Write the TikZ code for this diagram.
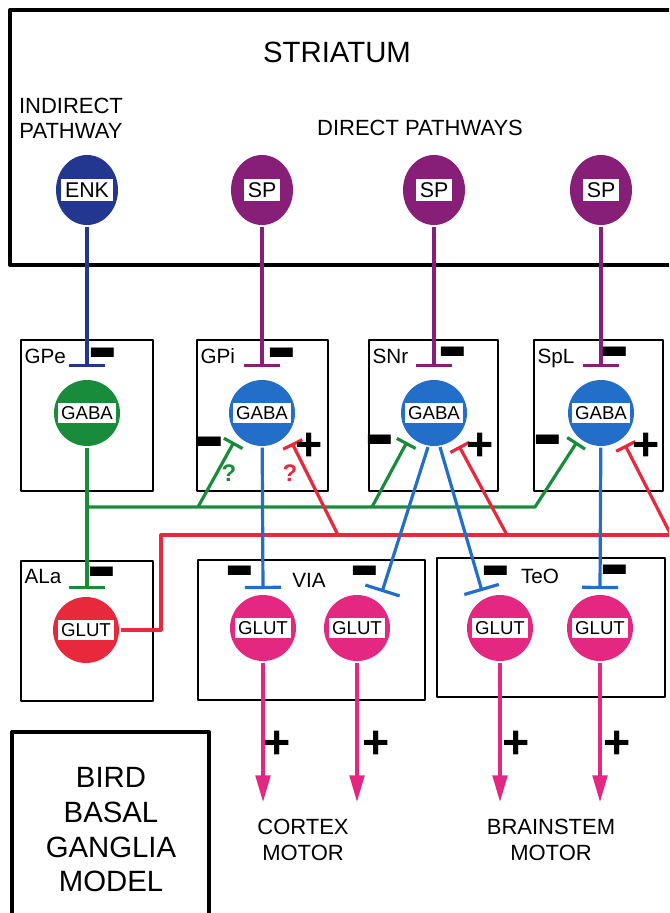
\documentclass[tikz,border=0pt]{standalone}
\usepackage{fontspec}
\setmainfont{Liberation Sans}
\usetikzlibrary{shapes.geometric,arrows.meta}
\definecolor{enkblue}{RGB}{35,55,145}
\definecolor{sppurple}{RGB}{135,30,120}
\definecolor{gabablue}{RGB}{35,110,200}
\definecolor{gpegreen}{RGB}{25,140,60}
\definecolor{glutred}{RGB}{232,40,60}
\definecolor{glutpink}{RGB}{228,40,130}
\newcommand{\mns}{\scalebox{1.9}[3.6]{−}}
\begin{document}
\begin{tikzpicture}[x=0.75pt,y=-0.75pt,line width=2.4pt,
  bigframe/.style={draw=black,line width=2.5pt},
  frame/.style={draw=black,line width=1.6pt},
  striacell/.style={ellipse,minimum width=46.5pt,minimum height=52.5pt,inner sep=0pt},
  soma/.style={circle,minimum size=49.5pt,inner sep=0pt},
  tag/.style={fill=white,inner xsep=2.5pt,inner ysep=0pt,minimum height=15.5pt,font=\fontsize{14}{14}\selectfont},
  bigtag/.style={fill=white,inner xsep=3pt,inner ysep=0pt,minimum height=16.5pt,font=\fontsize{16}{16}\selectfont},
  inh/.style={-{Bar[width=27pt]}},
  inhs/.style={-{Bar[width=16pt]}},
  exc/.style={-{Triangle[width=11pt,length=20pt]}},
  minus/.style={font=\bfseries\fontsize{18}{18}\selectfont,inner sep=0pt,yshift=-9.7pt},
  plus/.style={font=\bfseries\fontsize{35}{35}\selectfont,inner sep=0pt},
  qmark/.style={font=\bfseries\fontsize{18}{18}\selectfont,inner sep=0pt},
  region/.style={font=\fontsize{15.5}{15.5}\selectfont,anchor=base west,inner sep=0pt},
  title/.style={font=\fontsize{16.5}{19}\selectfont,align=center,inner sep=0pt},
  line join=round]
\useasboundingbox (0,0) rectangle (669,913);
\clip (0,0) rectangle (669,913);

% ---------- frames ----------
\draw[bigframe] (690,10) -- (10,10) -- (10,265) -- (690,265);
\draw[bigframe] (12,925) -- (12,732) -- (209,732) -- (209,925);
\draw[frame] (21,340) rectangle (153,491);
\draw[frame] (197,340) rectangle (328,491);
\draw[frame] (369,340) rectangle (498,491);
\draw[frame] (534,340) rectangle (663,491);
\draw[frame] (21,561) rectangle (153,701);
\draw[frame] (198,560) rectangle (425,700);
\draw[frame] (437,558) rectangle (665,697);

% ---------- titles ----------
\node[font=\fontsize{22}{22}\selectfont,inner sep=0pt] (tstr) at (337,52) {STRIATUM};
\node[title] (tind) at (71,118) {INDIRECT\\PATHWAY};
\node[title] (tdir) at (420,128) {DIRECT PATHWAYS};
\node[title] (tctx) at (303,840) {CORTEX\\MOTOR};
\node[title] (tbst) at (551,840) {BRAINSTEM\\MOTOR};
\node[font=\fontsize{22}{26}\selectfont,align=center,inner sep=0pt] (tbird) at (111,830) {BIRD\\BASAL\\GANGLIA\\MODEL};

% ---------- region labels ----------
\node[region] (lgpe) at (23,363) {GPe};
\node[region] (lgpi) at (199,363) {GPi};
\node[region] (lsnr) at (371,363) {SNr};
\node[region] (lspl) at (536,363) {SpL};
\node[region] (lala) at (23,583) {ALa};
\node[region,anchor=base] (lvia) at (309,587) {VIA};
\node[region,anchor=base] (lteo) at (540,583) {TeO};

% ---------- cells ----------
\node[striacell,fill=enkblue] (enk) at (87,190) {};
\node[striacell,fill=sppurple] (sp1) at (262,190) {};
\node[striacell,fill=sppurple] (sp2) at (434,190) {};
\node[striacell,fill=sppurple] (sp3) at (601,190) {};

\node[soma,fill=gpegreen] (gpe) at (87,413) {};
\node[soma,fill=gabablue] (gpi) at (262,413) {};
\node[soma,fill=gabablue] (snr) at (434,413) {};
\node[soma,fill=gabablue] (spl) at (601,413) {};

\node[soma,fill=glutred] (ala) at (86,630) {};
\node[soma,fill=glutpink] (via1) at (263,628) {};
\node[soma,fill=glutpink] (via2) at (357,628) {};
\node[soma,fill=glutpink] (teo1) at (500,628) {};
\node[soma,fill=glutpink] (teo2) at (600,628) {};

% ---------- end points ----------
\coordinate (gpe-in) at (87,367);
\coordinate (gpi-in) at (262,367);
\coordinate (snr-in) at (434,367);
\coordinate (spl-in) at (601,367);
\coordinate (ala-in) at (87,589);
\coordinate (via1-in) at (263,589);
\coordinate (via2-in) at (382,592);
\coordinate (teo1-in) at (482,591);
\coordinate (teo2-in) at (600,589);
\coordinate (gpi-g) at (234,442);
\coordinate (snr-g) at (407,442);
\coordinate (spl-g) at (577,442);
\coordinate (gpi-r) at (292,443);
\coordinate (snr-r) at (459,446);
\coordinate (spl-r) at (625,445);
\coordinate (g0) at (87,507);
\coordinate (g1) at (198,507);
\coordinate (g2) at (372,507);
\coordinate (g3) at (535,507);
\coordinate (r0) at (161,535);
\coordinate (r1) at (338,535);
\coordinate (r2) at (507,535);
\coordinate (r3) at (671,535);
\coordinate (via1-out) at (263,802);
\coordinate (via2-out) at (357,802);
\coordinate (teo1-out) at (500,802);
\coordinate (teo2-out) at (600,802);

% ---------- striatal projections ----------
\draw[enkblue,inh] (enk) -- (gpe-in);
\draw[sppurple,inh] (sp1) -- (gpi-in);
\draw[sppurple,inh] (sp2) -- (snr-in);
\draw[sppurple,inh] (sp3) -- (spl-in);

% ---------- GPe (green) ----------
\draw[gpegreen,inh] (gpe) -- (ala-in);
\draw[gpegreen,inhs] (g0) -- (g3) -- (spl-g);
\draw[gpegreen,inhs] (g1) -- (gpi-g);
\draw[gpegreen,inhs] (g2) -- (snr-g);

% ---------- ALa (red) ----------
\draw[glutred] (ala) -- (161,630) -- (r0) -- (690,535);
\draw[glutred,inhs] (r1) -- (gpi-r);
\draw[glutred,inhs] (r2) -- (snr-r);
\draw[glutred,inhs] (r3) -- (spl-r);

% ---------- pallidal outputs (blue) ----------
\draw[gabablue,inh] (gpi) -- (via1-in);
\draw[gabablue,inh] (snr.-100) -- (via2-in);
\draw[gabablue,inh] (snr.-80) -- (teo1-in);
\draw[gabablue,inh] (spl) -- (teo2-in);

% ---------- motor outputs ----------
\draw[glutpink,exc] (via1) -- (via1-out);
\draw[glutpink,exc] (via2) -- (via2-out);
\draw[glutpink,exc] (teo1) -- (teo1-out);
\draw[glutpink,exc] (teo2) -- (teo2-out);

% ---------- cell tags ----------
\node[bigtag] (enk-t) at (enk) {ENK};
\node[bigtag] (sp1-t) at (sp1) {SP};
\node[bigtag] (sp2-t) at (sp2) {SP};
\node[bigtag] (sp3-t) at (sp3) {SP};
\node[tag] (gpe-t) at (gpe) {GABA};
\node[tag] (gpi-t) at (gpi) {GABA};
\node[tag] (snr-t) at (snr) {GABA};
\node[tag] (spl-t) at (spl) {GABA};
\node[tag] (ala-t) at (ala) {GLUT};
\node[tag] (via1-t) at (via1) {GLUT};
\node[tag] (via2-t) at (via2) {GLUT};
\node[tag] (teo1-t) at (teo1) {GLUT};
\node[tag] (teo2-t) at (teo2) {GLUT};

% ---------- signs ----------
\node[minus] (m1) at (103,352) {\mns};
\node[minus] (m2) at (282,352) {\mns};
\node[minus] (m3) at (453,351) {\mns};
\node[minus] (m4) at (615,351) {\mns};
\node[minus] (m5) at (210,441) {\mns};
\node[minus] (m6) at (380,439) {\mns};
\node[minus] (m7) at (548,439) {\mns};
\node[minus] (m8) at (102,571) {\mns};
\node[minus] (m9) at (240,570) {\mns};
\node[minus] (m10) at (365,570) {\mns};
\node[minus] (m11) at (496,570) {\mns};
\node[minus] (m12) at (615,569) {\mns};

\node[plus] (p1) at (309,447) {+};
\node[plus] (p2) at (480,447) {+};
\node[plus] (p3) at (646,447) {+};
\node[plus] (p4) at (277,745) {+};
\node[plus] (p5) at (376,745) {+};
\node[plus] (p6) at (516,745) {+};
\node[plus] (p7) at (617,745) {+};

\node[qmark,text=gpegreen] (q1) at (229,473) {?};
\node[qmark,text=glutred] (q2) at (290,473) {?};
\end{tikzpicture}
\end{document}
